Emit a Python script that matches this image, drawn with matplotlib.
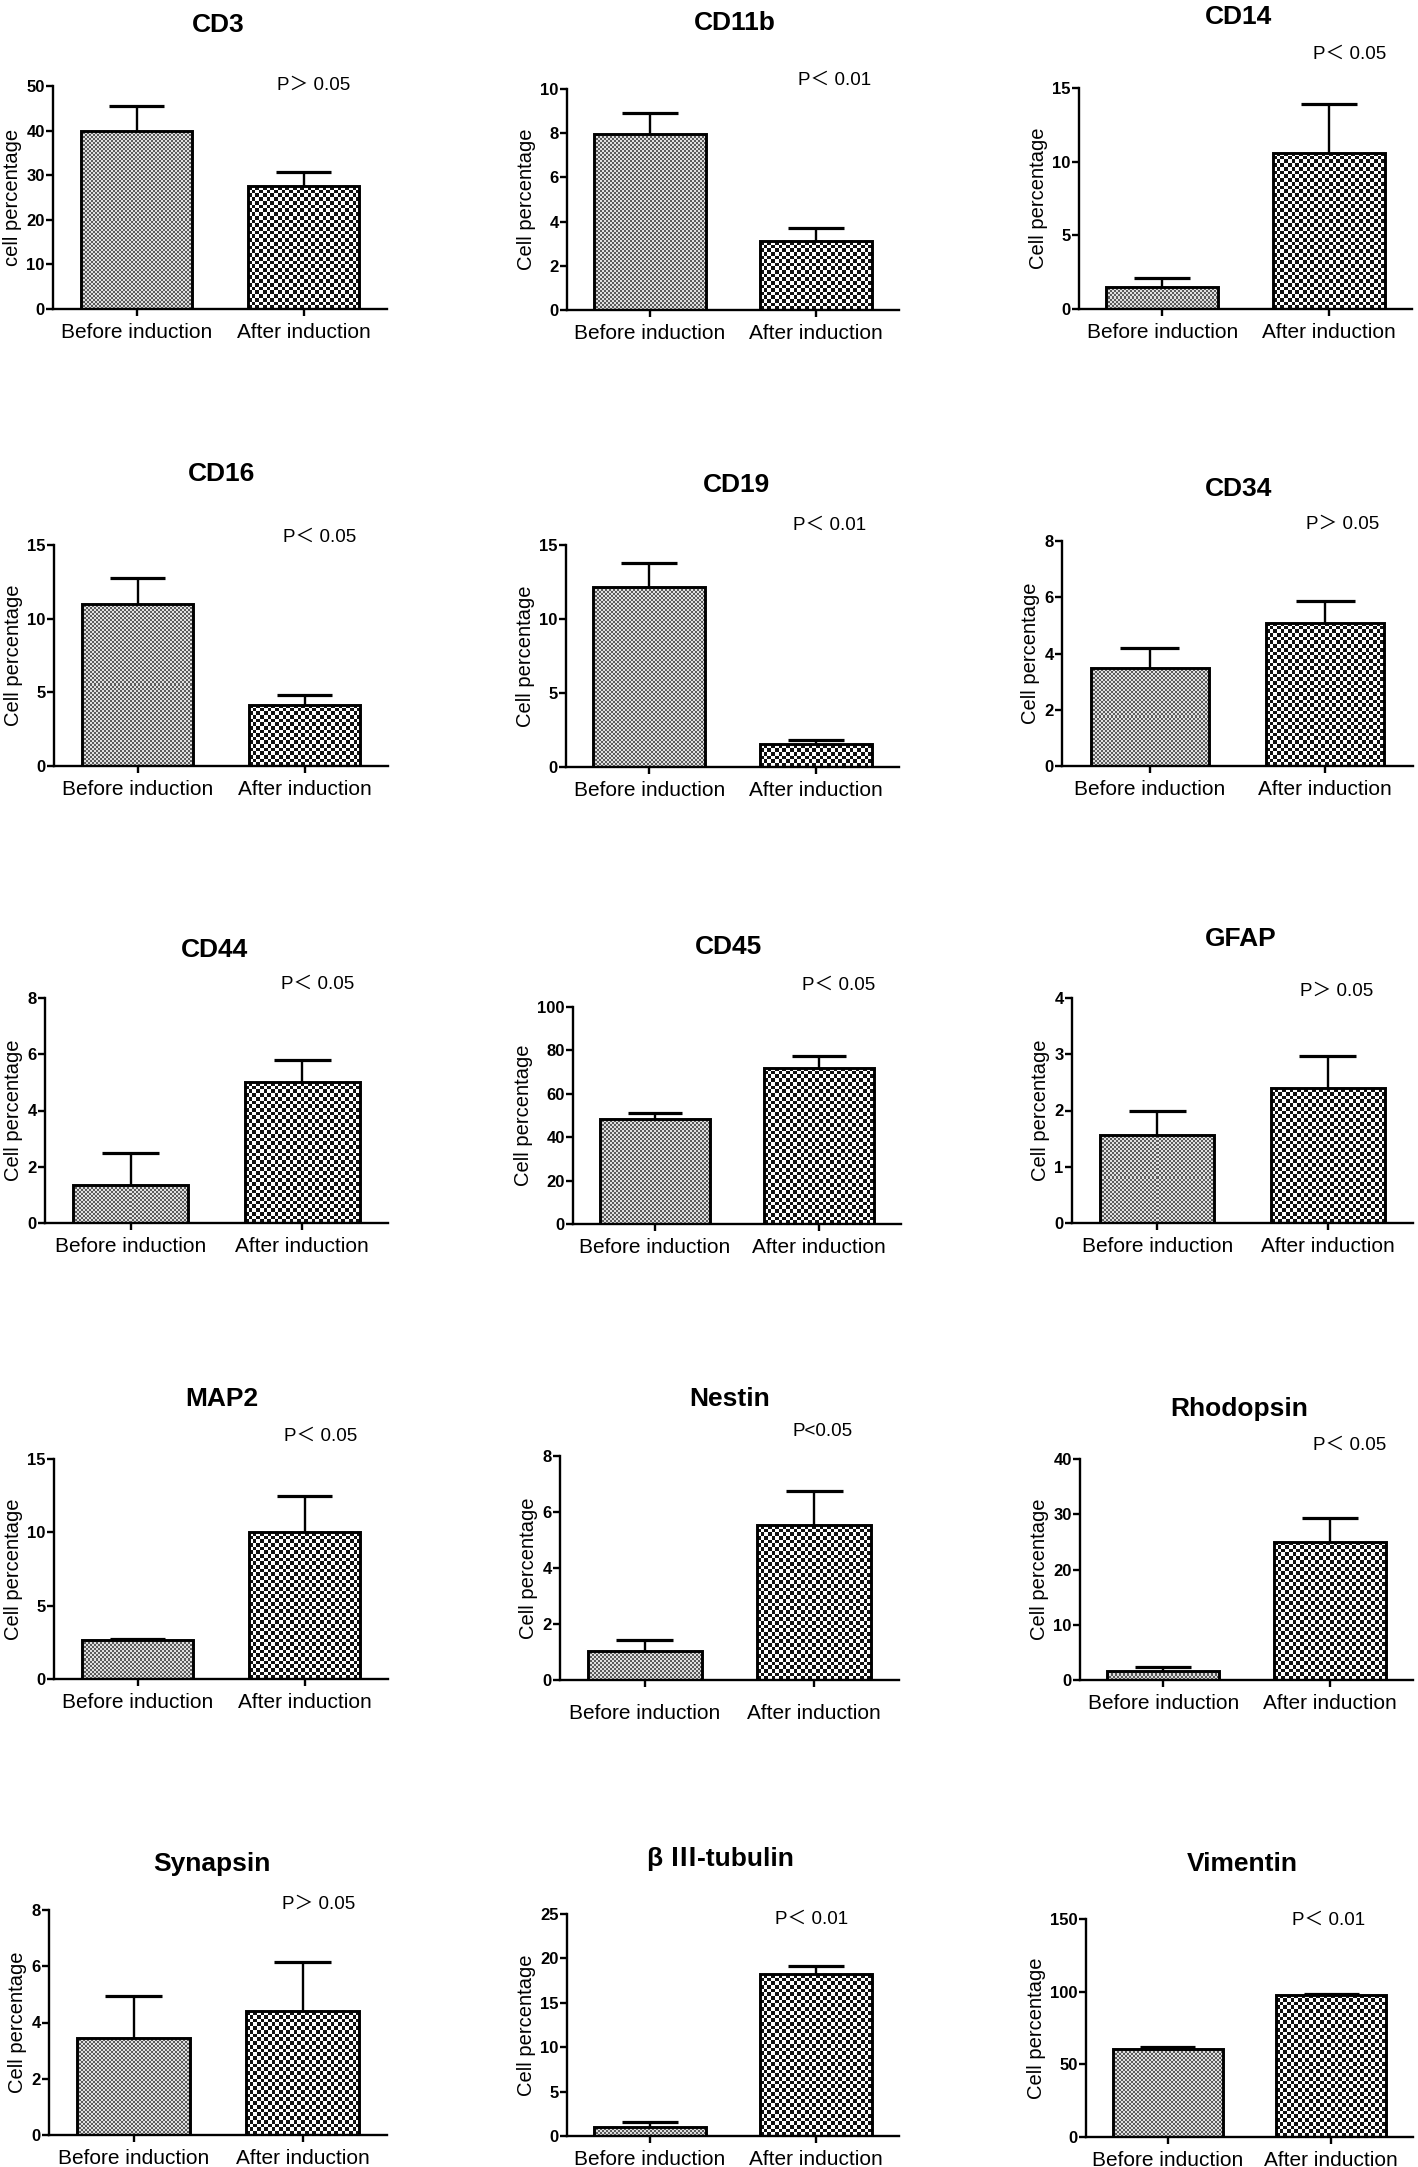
import numpy as np
import matplotlib
matplotlib.use('Agg')
import matplotlib.pyplot as plt
from matplotlib.colors import ListedColormap

# ---------------- data ----------------
markers = ['CD3', 'CD11b', 'CD14', 'CD16', 'CD19', 'CD34', 'CD44', 'CD45', 'GFAP',
           'MAP2', 'Nestin', 'Rhodopsin', 'Synapsin', 'β Ⅲ-tubulin', 'Vimentin']
groups = ['Before induction', 'After induction']
before_mean = [40.0, 7.95, 1.5, 11.0, 12.15, 3.5, 1.35, 48.5, 1.57, 2.65, 1.05, 1.6, 3.45, 1.05, 60.5]
before_upper = [45.5, 8.9, 2.1, 12.75, 13.8, 4.2, 2.5, 51.0, 2.0, 2.75, 1.42, 2.3, 4.95, 1.6, 62.0]
after_mean = [27.5, 3.1, 10.6, 4.15, 1.55, 5.1, 5.0, 72.0, 2.4, 10.0, 5.52, 25.0, 4.4, 18.2, 98.0]
after_upper = [30.8, 3.7, 13.9, 4.8, 1.8, 5.85, 5.8, 77.5, 2.97, 12.5, 6.75, 29.3, 6.15, 19.1, 98.5]
y_max = [50, 10, 15, 15, 15, 8, 8, 100, 4, 15, 8, 40, 8, 25, 150]
y_step = [10, 2, 5, 5, 5, 2, 2, 20, 1, 5, 2, 10, 2, 5, 50]
p_text = ['P＞ 0.05', 'P＜ 0.01', 'P＜ 0.05', 'P＜ 0.05', 'P＜ 0.01', 'P＞ 0.05', 'P＜ 0.05',
          'P＜ 0.05', 'P＞ 0.05', 'P＜ 0.05', 'P<0.05', 'P＜ 0.05', 'P＞ 0.05', 'P＜ 0.01', 'P＜ 0.01']
y_labels = ['cell percentage'] + ['Cell percentage'] * 14

# ---------------- layout (pixels) ----------------
W, H = 1418, 2167
# axes box: left, top, right, bottom
axes_box = [(53, 86, 387, 309), (567, 89, 899, 310), (1079, 88, 1412, 309),
            (54, 545, 388, 766), (566, 545, 899, 767), (1062, 541, 1413, 766),
            (45, 998, 388, 1223), (573, 1007, 901, 1224), (1072, 998, 1413, 1223),
            (54, 1459, 388, 1679), (560, 1456, 899, 1680), (1080, 1459, 1413, 1680),
            (49, 1910, 387, 2135), (567, 1914, 899, 2136), (1086, 1919, 1413, 2137)]
# visual centre of title / p-value text
title_pos = [(218, 23), (735, 21), (1238, 15), (222, 472), (736, 483), (1239, 487),
             (215, 948), (729, 945), (1241, 937), (222, 1397), (730, 1397), (1239, 1407),
             (212, 1862), (720, 1857), (1242, 1862)]
p_pos = [(277, 83), (798, 78), (1313, 52), (283, 535), (793, 523), (1306, 522),
         (281, 982), (802, 983), (1300, 989), (284, 1434), (793, 1429), (1313, 1443),
         (282, 1902), (775, 1917), (1292, 1918)]
xlab_pad = [5] * 15
xlab_pad[10] = 12

plt.rcParams['font.family'] = ['Liberation Sans', 'Noto Sans CJK SC', 'DejaVu Sans']

fig = plt.figure(figsize=(W / 100, H / 100), dpi=100)
fig.patch.set_facecolor('white')

BAR_W = 0.67
LW = 1.7
TITLE_FS = 19
P_FS = 13.5


def texture(ax, bar, cell_px, c1, c2):
    x0 = bar.get_x()
    x1 = x0 + bar.get_width()
    h = bar.get_height()
    p0 = ax.transData.transform((x0, 0))
    p1 = ax.transData.transform((x1, h))
    nx = max(1, int(round(abs(p1[0] - p0[0]) / cell_px)))
    ny = max(1, int(round(abs(p1[1] - p0[1]) / cell_px)))
    grid = np.indices((ny, nx)).sum(axis=0) % 2
    im = ax.imshow(grid, extent=(x0, x1, 0, h), origin='lower',
                   cmap=ListedColormap([c1, c2]), interpolation='nearest',
                   aspect='auto', zorder=1)
    im.set_clip_path(bar)


for i, name in enumerate(markers):
    l, t, r, b = axes_box[i]
    ax = fig.add_axes([l / W, 1 - b / H, (r - l) / W, (b - t) / H])
    ax.set_xlim(-0.5, 1.5)
    ax.set_ylim(0, y_max[i])
    xs = np.arange(len(groups))
    means = [before_mean[i], after_mean[i]]
    uppers = [before_upper[i], after_upper[i]]
    bars = ax.bar(xs, means, width=BAR_W, facecolor='none', edgecolor='black',
                  linewidth=LW + 0.4, zorder=3)
    texture(ax, bars[0], 2.0, '#5a5a5a', '#dedede')
    texture(ax, bars[1], 3.7, '#111111', '#ffffff')
    ax.vlines(xs, means, uppers, color='black', linewidth=LW, zorder=2)
    ax.hlines(uppers, xs - BAR_W / 4, xs + BAR_W / 4, color='black',
              linewidth=LW + 0.6, zorder=2)
    ax.set_xlim(-0.5, 1.5)
    ax.set_ylim(0, y_max[i])

    for s in ['top', 'right']:
        ax.spines[s].set_visible(False)
    for s in ['left', 'bottom']:
        ax.spines[s].set_linewidth(LW)
    ax.set_xticks(xs)
    ax.set_xticklabels(groups, fontsize=15)
    ax.set_yticks(np.arange(0, y_max[i] + y_step[i] / 2, y_step[i]))
    ax.tick_params(axis='x', length=5, width=LW, pad=xlab_pad[i])
    ax.tick_params(axis='y', length=5, width=LW, pad=1, labelsize=12)
    for lab in ax.get_yticklabels():
        lab.set_fontweight('bold')
    ax.set_ylabel(y_labels[i], fontsize=14.5, labelpad=3)

    tx, ty = title_pos[i]
    cap_t = TITLE_FS * 100 / 72 * 0.716
    fig.text(tx / W, 1 - (ty + cap_t / 2) / H, name, ha='center', va='baseline',
             fontsize=TITLE_FS, fontweight='bold')
    px, py = p_pos[i]
    cap_p = P_FS * 100 / 72 * 0.716
    fig.text(px / W, 1 - (py + cap_p / 2) / H, p_text[i], ha='left', va='baseline',
             fontsize=P_FS)

fig.savefig('out.png', dpi=100, facecolor='white')
